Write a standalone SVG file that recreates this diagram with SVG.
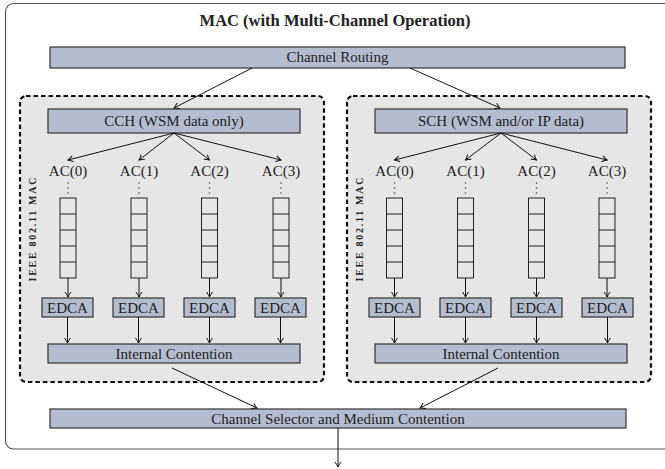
<svg xmlns="http://www.w3.org/2000/svg" width="665" height="469" viewBox="0 0 665 469">
<style>
svg text{font-family:'Liberation Serif',serif;fill:#222;}
.lbl{font-size:15px;text-anchor:middle;}
.title{font-size:16.5px;font-weight:bold;text-anchor:middle;}
.vert{font-size:10px;font-weight:bold;text-anchor:middle;}
.box{fill:#b4bdd0;stroke:#333;stroke-width:1.2;}
.grp{fill:#e6e6e6;stroke:#111;stroke-width:2.2;stroke-dasharray:4.5 3;}
.outer{fill:#fff;stroke:#555;stroke-width:1.2;}
.q{fill:none;stroke:#222;stroke-width:1;}
.dot{fill:#444;}
.c{fill:none;stroke:#111;stroke-width:1;marker-end:url(#ah);}
</style>
<defs>
<marker id="ah" viewBox="-6 -4 7 8" refX="0" refY="0" markerWidth="7" markerHeight="8" markerUnits="userSpaceOnUse" orient="auto">
<path d="M-5,-3 Q-2,-0.8 0,0 Q-2,0.8 -5,3" fill="none" stroke="#111" stroke-width="1"/>
</marker>
</defs>
<rect width="665" height="469" fill="#fff"/>
<g id="mac">
<rect class="outer" x="5.5" y="3.5" width="670" height="445.5" rx="8"/>
<text class="title" x="335" y="25.5">MAC (with Multi-Channel Operation)</text>
</g>
<g id="channel-routing">
<rect class="box" x="50" y="47" width="575" height="21"/>
<text class="lbl" x="337.5" y="62">Channel Routing</text>
</g>
<g id="mac-left">
<rect class="grp" x="20" y="96" width="304" height="286" rx="6"/>
<text class="vert" transform="translate(35.5,229.5) rotate(-90)" textLength="104" lengthAdjust="spacing">IEEE 802.11 MAC</text>
</g>
<g id="mac-right">
<rect class="grp" x="347" y="96" width="304" height="286" rx="6"/>
<text class="vert" transform="translate(362.5,229.5) rotate(-90)" textLength="104" lengthAdjust="spacing">IEEE 802.11 MAC</text>
</g>
<g id="cch">
<rect class="box" x="48" y="109" width="252" height="24"/>
<text class="lbl" x="174" y="126">CCH (WSM data only)</text>
</g>
<g id="sch">
<rect class="box" x="375" y="109" width="252" height="24"/>
<text class="lbl" x="501" y="126">SCH (WSM and/or IP data)</text>
</g>
<g id="ac-left-0"><text class="lbl" x="68" y="176">AC(0)</text><circle class="dot" cx="68" cy="183" r="0.8"/><circle class="dot" cx="68" cy="188" r="0.8"/><circle class="dot" cx="68" cy="193" r="0.8"/><rect class="q" x="60" y="198" width="16" height="80"/><path class="q" d="M60,214H76M60,230H76M60,246H76M60,262H76"/></g>
<g id="ac-left-1"><text class="lbl" x="139" y="176">AC(1)</text><circle class="dot" cx="139" cy="183" r="0.8"/><circle class="dot" cx="139" cy="188" r="0.8"/><circle class="dot" cx="139" cy="193" r="0.8"/><rect class="q" x="131" y="198" width="16" height="80"/><path class="q" d="M131,214H147M131,230H147M131,246H147M131,262H147"/></g>
<g id="ac-left-2"><text class="lbl" x="209.5" y="176">AC(2)</text><circle class="dot" cx="209.5" cy="183" r="0.8"/><circle class="dot" cx="209.5" cy="188" r="0.8"/><circle class="dot" cx="209.5" cy="193" r="0.8"/><rect class="q" x="201.5" y="198" width="16" height="80"/><path class="q" d="M201.5,214H217.5M201.5,230H217.5M201.5,246H217.5M201.5,262H217.5"/></g>
<g id="ac-left-3"><text class="lbl" x="281" y="176">AC(3)</text><circle class="dot" cx="281" cy="183" r="0.8"/><circle class="dot" cx="281" cy="188" r="0.8"/><circle class="dot" cx="281" cy="193" r="0.8"/><rect class="q" x="273" y="198" width="16" height="80"/><path class="q" d="M273,214H289M273,230H289M273,246H289M273,262H289"/></g>
<g id="ac-right-0"><text class="lbl" x="394.5" y="176">AC(0)</text><circle class="dot" cx="394.5" cy="183" r="0.8"/><circle class="dot" cx="394.5" cy="188" r="0.8"/><circle class="dot" cx="394.5" cy="193" r="0.8"/><rect class="q" x="386.5" y="198" width="16" height="80"/><path class="q" d="M386.5,214H402.5M386.5,230H402.5M386.5,246H402.5M386.5,262H402.5"/></g>
<g id="ac-right-1"><text class="lbl" x="465.5" y="176">AC(1)</text><circle class="dot" cx="465.5" cy="183" r="0.8"/><circle class="dot" cx="465.5" cy="188" r="0.8"/><circle class="dot" cx="465.5" cy="193" r="0.8"/><rect class="q" x="457.5" y="198" width="16" height="80"/><path class="q" d="M457.5,214H473.5M457.5,230H473.5M457.5,246H473.5M457.5,262H473.5"/></g>
<g id="ac-right-2"><text class="lbl" x="536.5" y="176">AC(2)</text><circle class="dot" cx="536.5" cy="183" r="0.8"/><circle class="dot" cx="536.5" cy="188" r="0.8"/><circle class="dot" cx="536.5" cy="193" r="0.8"/><rect class="q" x="528.5" y="198" width="16" height="80"/><path class="q" d="M528.5,214H544.5M528.5,230H544.5M528.5,246H544.5M528.5,262H544.5"/></g>
<g id="ac-right-3"><text class="lbl" x="607" y="176">AC(3)</text><circle class="dot" cx="607" cy="183" r="0.8"/><circle class="dot" cx="607" cy="188" r="0.8"/><circle class="dot" cx="607" cy="193" r="0.8"/><rect class="q" x="599" y="198" width="16" height="80"/><path class="q" d="M599,214H615M599,230H615M599,246H615M599,262H615"/></g>
<g id="edca-left-0"><rect class="box" x="42" y="298" width="51" height="19"/><text class="lbl" x="67.5" y="312.5">EDCA</text></g>
<g id="edca-left-1"><rect class="box" x="113" y="298" width="51" height="19"/><text class="lbl" x="138.5" y="312.5">EDCA</text></g>
<g id="edca-left-2"><rect class="box" x="184" y="298" width="51" height="19"/><text class="lbl" x="209.5" y="312.5">EDCA</text></g>
<g id="edca-left-3"><rect class="box" x="255" y="298" width="51" height="19"/><text class="lbl" x="280.5" y="312.5">EDCA</text></g>
<g id="edca-right-0"><rect class="box" x="369" y="298" width="51" height="19"/><text class="lbl" x="394.5" y="312.5">EDCA</text></g>
<g id="edca-right-1"><rect class="box" x="440" y="298" width="51" height="19"/><text class="lbl" x="465.5" y="312.5">EDCA</text></g>
<g id="edca-right-2"><rect class="box" x="511" y="298" width="51" height="19"/><text class="lbl" x="536.5" y="312.5">EDCA</text></g>
<g id="edca-right-3"><rect class="box" x="582" y="298" width="51" height="19"/><text class="lbl" x="607.5" y="312.5">EDCA</text></g>
<g id="ic-left"><rect class="box" x="48" y="344" width="252" height="19"/><text class="lbl" x="174" y="358.5">Internal Contention</text></g>
<g id="ic-right"><rect class="box" x="375" y="344" width="252" height="19"/><text class="lbl" x="501" y="358.5">Internal Contention</text></g>
<g id="selector"><rect class="box" x="50" y="409" width="576" height="19"/><text class="lbl" x="338" y="423.5">Channel Selector and Medium Contention</text></g>
<g id="connectors">
<path class="c" d="M252,68L174,108"/>
<path class="c" d="M410,68L500,108"/>
<path class="c" d="M174,133L68,160"/>
<path class="c" d="M174,133L139,160"/>
<path class="c" d="M174,133L209.5,160"/>
<path class="c" d="M174,133L281,160"/>
<path class="c" d="M501,133L394.5,160"/>
<path class="c" d="M501,133L465.5,160"/>
<path class="c" d="M501,133L536.5,160"/>
<path class="c" d="M501,133L607,160"/>
<path class="c" d="M68,278V297"/>
<path class="c" d="M139,278V297"/>
<path class="c" d="M209.5,278V297"/>
<path class="c" d="M281,278V297"/>
<path class="c" d="M394.5,278V297"/>
<path class="c" d="M465.5,278V297"/>
<path class="c" d="M536.5,278V297"/>
<path class="c" d="M607,278V297"/>
<path class="c" d="M67.5,317V343"/>
<path class="c" d="M138.5,317V343"/>
<path class="c" d="M209.5,317V343"/>
<path class="c" d="M280.5,317V343"/>
<path class="c" d="M394.5,317V343"/>
<path class="c" d="M465.5,317V343"/>
<path class="c" d="M536.5,317V343"/>
<path class="c" d="M607.5,317V343"/>
<path class="c" d="M172,368L257,408"/>
<path class="c" d="M498,368L420,408"/>
<path class="c" d="M338,428V467"/>
</g>
</svg>
